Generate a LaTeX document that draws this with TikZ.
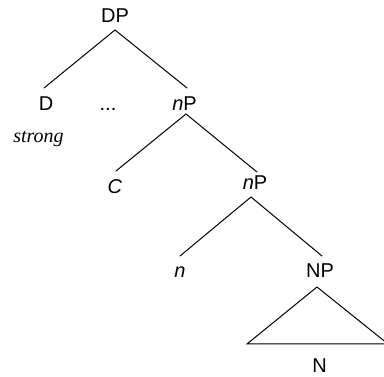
\documentclass[tikz,border=0pt]{standalone}
\usepackage{fontspec}
\setmainfont{Liberation Sans}
\newfontfamily\timesfam{Liberation Serif}
\begin{document}
\begin{tikzpicture}[x=1pt,y=-1pt,
  lbl/.style={font=\fontsize{20}{24}\selectfont, inner sep=0pt, anchor=base},
  ann/.style={font=\timesfam\itshape\fontsize{20}{24}\selectfont, inner sep=0pt, anchor=base},
  edge/.style={line width=1pt, line cap=round}]
\useasboundingbox (0,0) rectangle (384,377);
% labels
\node[lbl] (dp) at (115,23) {DP};
\node[lbl] (d) at (46,110.5) {D};
\node[lbl] (dots) at (108,110.5) {...};
\node[lbl] (np1) at (184.5,110.5) {\textit{n}P};
\node[ann] (strong) at (38.5,142.5) {strong};
\node[lbl] (c) at (115,193.5) {\textit{C}};
\node[lbl] (np2) at (255,190) {\textit{n}P};
\node[lbl] (n) at (180,278) {\textit{n}};
\node[lbl] (NP) at (320,278) {NP};
\node[lbl] (N) at (319.5,373) {N};
% branch points
\coordinate (a1) at (115,30);
\coordinate (a1l) at (44,88);
\coordinate (a1r) at (187,88);
\coordinate (a2) at (186,114);
\coordinate (a2l) at (116,171);
\coordinate (a2r) at (257,172);
\coordinate (a3) at (251,197);
\coordinate (a3l) at (180,256);
\coordinate (a3r) at (322,256);
\coordinate (t1) at (317,287);
\coordinate (t2) at (247,344);
\coordinate (t3) at (388,344);
\draw[edge] (a1l) -- (a1) -- (a1r);
\draw[edge] (a2l) -- (a2) -- (a2r);
\draw[edge] (a3l) -- (a3) -- (a3r);
\draw[edge, line join=miter] (t1) -- (t2) -- (t3) -- cycle;
\end{tikzpicture}
\end{document}
